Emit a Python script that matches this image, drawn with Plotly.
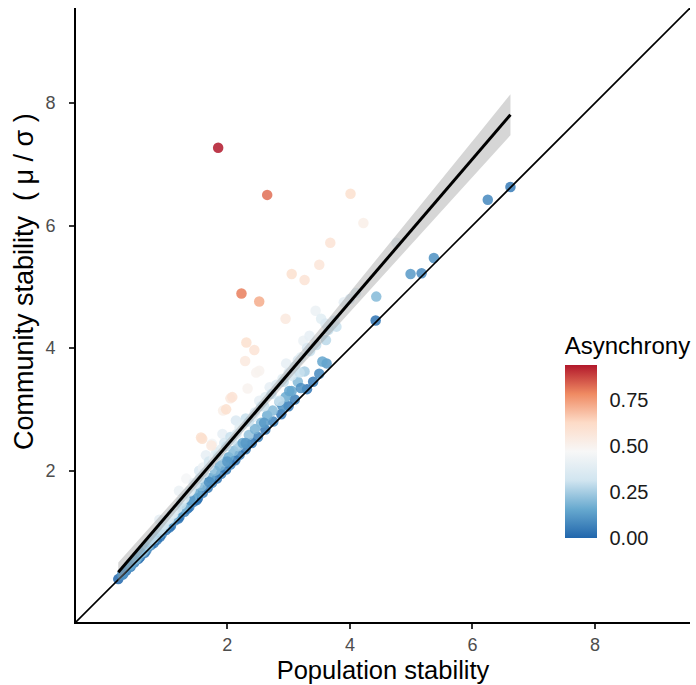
import numpy as np
import plotly.graph_objects as go

# Population stability (x), community stability (y), asynchrony (a)
pop_diag = [0.22, 0.35, 0.48, 0.58, 0.68, 0.75, 0.85, 0.93, 1.0, 1.08, 1.15, 1.22, 1.3, 1.38, 1.45,
            1.52, 1.6, 1.68, 1.75, 1.83, 1.9, 1.98, 2.05, 2.13, 2.2, 2.3, 2.4, 2.5, 2.62, 2.75,
            2.88, 3.0, 3.1, 3.3, 3.4, 3.5, 3.62, 4.42, 4.99, 5.17, 5.37, 6.25, 6.62,
            0.3, 0.42, 0.55, 0.65, 0.8, 0.9, 1.05, 1.2, 1.35, 1.5]
com_diag = [0.23, 0.37, 0.5, 0.6, 0.7, 0.78, 0.87, 0.96, 1.03, 1.1, 1.19, 1.25, 1.33, 1.41, 1.49,
            1.55, 1.64, 1.72, 1.8, 1.87, 1.95, 2.02, 2.1, 2.17, 2.26, 2.35, 2.45, 2.55, 2.67, 2.8,
            2.92, 3.05, 3.16, 3.33, 3.45, 3.58, 3.75, 4.45, 5.21, 5.22, 5.47, 6.42, 6.63,
            0.31, 0.43, 0.56, 0.66, 0.82, 0.92, 1.07, 1.22, 1.38, 1.52]
asy_diag = [0.0, 0.04, 0.05, 0.03, 0.06, 0.08, 0.04, 0.07, 0.05, 0.03, 0.08, 0.04, 0.06, 0.05, 0.07,
            0.03, 0.06, 0.05, 0.08, 0.04, 0.06, 0.05, 0.07, 0.04, 0.06, 0.05, 0.04, 0.06, 0.05, 0.07,
            0.04, 0.05, 0.06, 0.04, 0.05, 0.08, 0.12, 0.03, 0.12, 0.08, 0.1, 0.08, 0.05,
            0.02, 0.03, 0.02, 0.03, 0.04, 0.03, 0.04, 0.03, 0.04, 0.03]

pop_mid = [0.3, 0.45, 0.55, 0.65, 0.72, 0.8, 0.9, 0.98, 1.05, 1.12, 1.2, 1.28, 1.35, 1.42, 1.5,
           1.58, 1.65, 1.72, 1.8, 1.88, 1.95, 2.02, 2.1, 2.18, 2.25, 2.35, 2.45, 2.55, 2.65, 2.74,
           2.85, 2.95, 3.05, 3.15, 3.26, 3.55, 4.43, 3.01,
           0.5, 0.62, 1.0, 1.4, 1.7, 2.0, 2.3, 2.6, 2.9, 3.2]
com_mid = [0.33, 0.5, 0.6, 0.7, 0.78, 0.88, 0.97, 1.07, 1.14, 1.22, 1.3, 1.4, 1.48, 1.56, 1.64,
           1.75, 1.84, 1.88, 2.0, 2.08, 2.15, 2.22, 2.32, 2.4, 2.45, 2.58, 2.68, 2.78, 2.9, 2.98,
           3.12, 3.2, 3.3, 3.45, 3.62, 3.78, 4.84, 3.3,
           0.54, 0.67, 1.08, 1.52, 1.82, 2.15, 2.45, 2.78, 3.05, 3.35]
asy_mid = [0.12, 0.15, 0.14, 0.18, 0.15, 0.2, 0.13, 0.2, 0.17, 0.22, 0.15, 0.2, 0.18, 0.22, 0.16,
           0.2, 0.24, 0.15, 0.2, 0.18, 0.22, 0.16, 0.2, 0.24, 0.15, 0.22, 0.18, 0.2, 0.17, 0.2,
           0.22, 0.16, 0.15, 0.2, 0.25, 0.15, 0.2, 0.15,
           0.1, 0.12, 0.12, 0.12, 0.1, 0.12, 0.12, 0.12, 0.1, 0.1]

pop_light = [0.5, 0.62, 0.75, 0.89, 0.89, 0.95, 1.02, 1.1, 1.21, 1.25, 1.33, 1.38, 1.45, 1.54, 1.6,
             1.65, 1.7, 1.75, 1.82, 1.92, 1.95, 2.05, 2.14, 2.2, 2.3, 2.41, 2.52, 2.6, 2.69, 2.85,
             2.9, 2.96, 3.05, 3.18, 3.24, 3.34, 3.44, 3.53, 3.61, 3.78, 4.76, 3.15,
             0.28, 0.4, 0.42, 0.52, 0.6, 0.7, 0.78, 0.82, 0.92, 0.97,
             1.05, 1.12, 1.18, 1.25, 1.3, 1.4, 1.48, 1.55, 1.62, 1.7, 1.78, 1.85, 1.9, 1.98,
             2.08, 2.15, 2.25, 2.35, 2.45, 2.55, 2.62, 2.72, 2.8, 2.92, 3.0, 3.1, 3.2, 3.35,
             3.45, 3.65, 3.75, 4.0, 3.3, 3.6, 3.9, 4.1]
com_light = [0.55, 0.68, 0.85, 1.02, 1.2, 1.12, 1.2, 1.3, 1.67, 1.5, 1.87, 1.66, 1.8, 2.0, 2.05,
             2.25, 2.15, 2.44, 2.3, 2.6, 2.45, 2.55, 2.82, 2.7, 2.85, 2.87, 3.14, 3.05, 3.36, 3.14,
             3.5, 3.75, 3.55, 3.6, 4.12, 4.2, 4.61, 4.48, 4.13, 4.35, 5.72, 3.8,
             0.3, 0.43, 0.46, 0.57, 0.66, 0.78, 0.88, 0.92, 1.05, 1.12,
             1.22, 1.3, 1.38, 1.45, 1.55, 1.68, 1.78, 1.88, 1.96, 2.08, 2.2, 2.25, 2.35, 2.4,
             2.5, 2.6, 2.75, 2.8, 2.95, 3.05, 3.2, 3.25, 3.4, 3.45, 3.6, 3.7, 3.85, 3.95,
             4.05, 4.3, 4.45, 4.8, 4.0, 4.4, 4.75, 4.9]
asy_light = [0.2, 0.22, 0.28, 0.3, 0.4, 0.33, 0.36, 0.35, 0.42, 0.38, 0.46, 0.36, 0.4, 0.35, 0.42,
             0.4, 0.32, 0.45, 0.38, 0.4, 0.34, 0.3, 0.35, 0.38, 0.3, 0.35, 0.4, 0.3, 0.4, 0.3,
             0.38, 0.4, 0.32, 0.3, 0.42, 0.4, 0.42, 0.38, 0.28, 0.3, 0.4, 0.35,
             0.1, 0.12, 0.15, 0.18, 0.2, 0.25, 0.28, 0.28, 0.3, 0.33,
             0.36, 0.38, 0.38, 0.3, 0.38, 0.38, 0.35, 0.33, 0.36, 0.35, 0.4, 0.32, 0.38, 0.3,
             0.33, 0.36, 0.38, 0.3, 0.35, 0.32, 0.38, 0.3, 0.36, 0.3, 0.35, 0.33, 0.38, 0.3,
             0.3, 0.3, 0.35, 0.35, 0.35, 0.35, 0.4, 0.38]

pop_high = [1.57, 1.74, 1.93, 2.05, 1.98, 2.08, 2.33, 2.29, 2.31, 2.44, 2.52, 2.47, 2.95, 3.05,
            3.26, 3.5, 3.68, 4.01, 4.22, 2.23, 2.52, 2.65, 1.85, 1.59]
com_high = [2.54, 2.41, 2.98, 3.18, 3.0, 3.2, 3.34, 3.79, 4.09, 3.97, 3.63, 3.6, 4.48, 5.21,
            5.11, 5.36, 5.72, 6.52, 6.04, 4.89, 4.76, 6.5, 7.27, 2.52]
asy_high = [0.6, 0.55, 0.52, 0.55, 0.6, 0.58, 0.5, 0.55, 0.6, 0.58, 0.5, 0.5, 0.55, 0.6,
            0.58, 0.57, 0.58, 0.6, 0.52, 0.8, 0.72, 0.82, 0.94, 0.6]

x = np.array(pop_diag + pop_mid + pop_light + pop_high)
y = np.array(com_diag + com_mid + com_light + com_high)
a = np.array(asy_diag + asy_mid + asy_light + asy_high)

axis_range = [-0.47, 9.55]
tick_vals = [2, 4, 6, 8]

# Linear model with 95% confidence band
n = len(x)
slope, intercept = np.polyfit(x, y, 1)
resid = y - (slope * x + intercept)
s = np.sqrt(np.sum(resid ** 2) / (n - 2))
xbar = x.mean()
sxx = np.sum((x - xbar) ** 2)
xf = np.linspace(x.min(), x.max(), 80)
yf = slope * xf + intercept
se = s * np.sqrt(1 / n + (xf - xbar) ** 2 / sxx)
tcrit = 1.97
lo = yf - tcrit * se
hi = yf + tcrit * se

colorscale = [[0.0, '#2166AC'], [1/6, '#67A9CF'], [2/6, '#D1E5F0'], [0.5, '#F7F7F7'],
              [4/6, '#FDDBC7'], [5/6, '#EF8A62'], [1.0, '#B2182B']]

FONT = "Liberation Sans, Arial, sans-serif"
fig = go.Figure()

fig.add_trace(go.Scatter(
    x=x, y=y, mode='markers',
    marker=dict(size=10.5, color=a, colorscale=colorscale, opacity=0.85,
                cmin=a.min(), cmax=a.max(), line=dict(width=0),
                colorbar=dict(
                    title=dict(text='Asynchrony', side='top', font=dict(size=24, color='black', family=FONT)),
                    x=0.796, xanchor='left', y=0.137, yanchor='bottom',
                    thickness=32, len=205, lenmode='pixels',
                    tickvals=[0, 0.25, 0.5, 0.75], ticktext=['0.00', '0.25', '0.50', '0.75'],
                    ticks='outside', tickcolor='rgba(0,0,0,0)', ticklen=9, tickwidth=1,
                    outlinewidth=0, tickfont=dict(size=20, color='#1a1a1a', family=FONT),
                    xpad=0, ypad=0)),
    showlegend=False, hoverinfo='skip'))

# 1:1 line
fig.add_trace(go.Scatter(x=axis_range, y=axis_range, mode='lines',
                         line=dict(color='black', width=1.6), showlegend=False, hoverinfo='skip'))

# confidence band
fig.add_trace(go.Scatter(x=np.concatenate([xf, xf[::-1]]), y=np.concatenate([hi, lo[::-1]]),
                         fill='toself', fillcolor='rgba(153,153,153,0.4)', line=dict(width=0),
                         mode='lines', showlegend=False, hoverinfo='skip'))
fig.add_trace(go.Scatter(x=xf, y=yf, mode='lines', line=dict(color='black', width=3),
                         showlegend=False, hoverinfo='skip'))

axis_common = dict(range=axis_range, tickvals=tick_vals, showgrid=False, zeroline=False,
                   showline=True, linecolor='black', linewidth=2, ticks='outside', ticklen=5,
                   tickwidth=1.5, tickcolor='#333333',
                   tickfont=dict(size=18, color='#4D4D4D', family=FONT))

fig.update_layout(
    width=696, height=685,
    margin=dict(l=76, r=6, t=8, b=63),
    paper_bgcolor='white', plot_bgcolor='white',
    xaxis=dict(**axis_common, title=dict(text='Population stability', font=dict(size=25.5, color='black', family=FONT), standoff=8)),
    yaxis=dict(**axis_common, ticklabelstandoff=10),
    annotations=[dict(text='Community stability  ( μ / σ )', textangle=-90, xref='paper', yref='paper',
                      x=-0.085, y=0.555, xanchor='center', yanchor='middle', showarrow=False,
                      font=dict(size=27, color='black', family=FONT))],
)

fig.write_html("out.html")
